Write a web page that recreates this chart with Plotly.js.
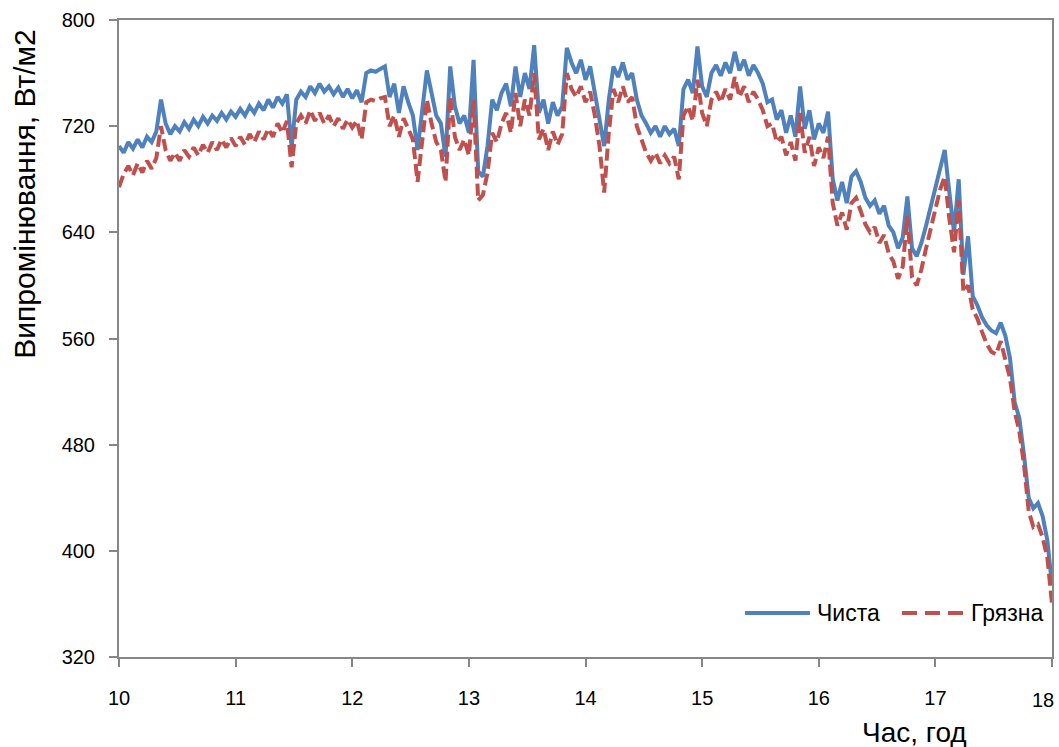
<!DOCTYPE html>
<html>
<head>
<meta charset="utf-8">
<script src="https://cdn.plot.ly/plotly-3.0.1.min.js"></script>
<style>
  html, body { margin: 0; padding: 0; background: #ffffff; }
  #chart { width: 1059px; height: 747px; }
</style>
</head>
<body>
<div id="chart"></div>
<script>
// Irradiance readings, one every 0.04 h from 10:00 to 18:00 (rows = one hour each)
const startHour = 10;
const stepHours = 0.04;

const cleanPanel = [
  705,700,708,703,710,704,712,708,716,740,722,714,720,716,723,718,725,720,727,722,728,724,730,725,731,
  727,733,728,735,730,737,732,740,734,742,737,744,704,740,746,742,750,745,752,746,750,744,749,742,748,
  741,747,738,760,762,761,763,765,742,752,730,750,738,728,702,735,762,745,728,722,697,765,735,722,728,
  715,770,686,682,705,740,732,745,752,735,765,742,760,748,781,730,740,722,738,728,735,779,768,760,770,
  755,765,745,728,705,740,765,757,768,755,760,740,728,722,715,720,712,720,714,718,705,748,755,745,780,
  750,742,760,766,758,768,760,776,762,770,758,766,760,752,738,740,725,732,715,728,712,750,718,732,710,
  722,715,731,680,664,678,662,682,686,678,666,660,664,654,660,645,640,628,636,667,628,622,632,645,660,
  675,690,702,670,640,680,608,637,592,585,576,570,566,564,572,562,545,512,500,472,440,432,436,426,408,
  374
];

const dirtyPanel = [
  674,684,690,683,692,685,694,688,696,720,702,694,700,694,702,697,704,698,706,700,708,702,710,704,711,
  705,712,706,714,708,716,710,718,712,722,715,724,689,722,728,722,732,724,730,722,728,720,726,718,725,
  719,724,710,738,740,739,741,742,720,728,712,726,718,710,678,712,740,722,708,702,678,742,712,702,710,
  698,740,664,668,685,715,708,722,730,715,745,720,740,728,760,710,718,702,716,706,714,760,748,742,750,
  738,746,728,705,670,715,748,738,750,738,742,720,710,700,694,700,692,698,692,697,680,728,735,724,755,
  730,720,740,746,738,748,740,757,742,750,738,746,740,732,720,722,708,712,698,708,694,730,700,712,690,
  704,696,712,662,645,655,642,662,666,656,646,640,644,632,638,624,618,605,614,652,606,600,612,628,642,
  658,672,682,650,625,664,595,600,582,575,565,556,550,548,558,545,530,505,490,465,430,418,420,410,395,
  360
];

const seriesNames = ['Чиста', 'Грязна'];
const seriesColors = ['#4F81BD', '#C0504D'];
const xTicks = [10, 11, 12, 13, 14, 15, 16, 17, 18];
const yTicks = [320, 400, 480, 560, 640, 720, 800];
const xTitle = 'Час, год';
const yTitle = 'Випромінювання, Вт/м2';

const axisGray = '#868686';
const font = 'Liberation Sans, Arial, sans-serif';
const dataDash = '12px,5px';
const tickFont = { family: font, size: 20, color: '#000' };

const traces = [
  {
    type: 'scatter', mode: 'lines', name: seriesNames[0],
    x0: startHour, dx: stepHours, y: cleanPanel,
    line: { color: seriesColors[0], width: 4 }
  },
  {
    type: 'scatter', mode: 'lines', name: seriesNames[1],
    x0: startHour, dx: stepHours, y: dirtyPanel,
    line: { color: seriesColors[1], width: 4, dash: dataDash }
  }
];

// the last hour label sits against the right edge, so it is drawn separately, right-aligned
const lastTick = xTicks[xTicks.length - 1];
const xTickText = xTicks.map(v => v === lastTick ? '' : String(v));

// legend keys: long line samples drawn in the lower right of the plot area
const legendY = 0.069;
const keyShapes = [
  { type: 'line', xref: 'paper', yref: 'paper', x0: 0.671, x1: 0.7406, y0: legendY, y1: legendY,
    line: { color: seriesColors[0], width: 4 } },
  { type: 'line', xref: 'paper', yref: 'paper', x0: 0.8392, x1: 0.9089, y0: legendY, y1: legendY,
    line: { color: seriesColors[1], width: 4, dash: '15px,8px' } }
];

const annotations = [
  { xref: 'x', yref: 'paper', x: lastTick, y: -0.0675, xanchor: 'right', yanchor: 'middle', xshift: 4,
    text: String(lastTick), showarrow: false, font: tickFont },
  { xref: 'paper', yref: 'paper', x: 0.746, y: legendY, xanchor: 'left', yanchor: 'middle',
    text: seriesNames[0], showarrow: false, font: { family: font, size: 23, color: '#000' } },
  { xref: 'paper', yref: 'paper', x: 0.9115, y: legendY, xanchor: 'left', yanchor: 'middle',
    text: seriesNames[1], showarrow: false, font: { family: font, size: 23, color: '#000' } },
  { xref: 'paper', yref: 'paper', x: 0.853, y: -0.118, xanchor: 'center', yanchor: 'middle',
    text: xTitle, showarrow: false, font: { family: font, size: 28, color: '#000' } },
  { xref: 'paper', yref: 'paper', x: -0.101, y: 0.727, xanchor: 'center', yanchor: 'middle',
    text: yTitle, textangle: -90, showarrow: false, font: { family: font, size: 30, color: '#000' } }
];

const layout = {
  width: 1059, height: 747,
  margin: { l: 119, r: 7, t: 20, b: 90 },
  paper_bgcolor: '#ffffff', plot_bgcolor: '#ffffff',
  font: { family: font, size: 20, color: '#000000' },
  showlegend: false,
  shapes: keyShapes,
  annotations: annotations,
  xaxis: {
    range: [10, 18], tickvals: xTicks, ticktext: xTickText,
    showgrid: false, zeroline: false,
    showline: true, linecolor: axisGray, linewidth: 2, mirror: true,
    ticks: 'outside', ticklen: 8, tickcolor: axisGray, tickwidth: 2,
    ticklabelstandoff: 14,
    tickfont: tickFont
  },
  yaxis: {
    range: [320, 800], tickvals: yTicks, ticktext: yTicks.map(String),
    showgrid: false, zeroline: false,
    showline: true, linecolor: axisGray, linewidth: 2, mirror: true,
    ticks: 'outside', ticklen: 8, tickcolor: axisGray, tickwidth: 2,
    ticklabelstandoff: 10,
    tickfont: tickFont
  }
};

Plotly.newPlot('chart', traces, layout, { displayModeBar: false, staticPlot: true });
</script>
</body>
</html>
